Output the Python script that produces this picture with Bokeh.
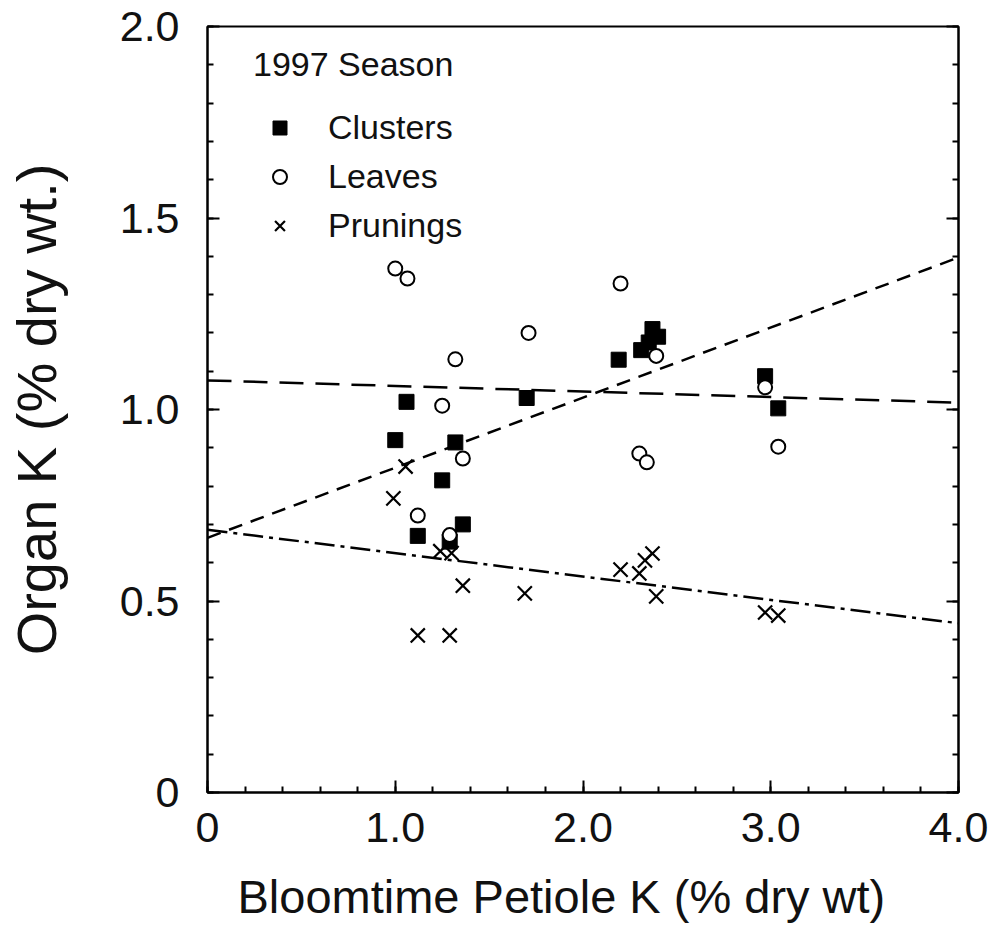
from bokeh.plotting import figure
from bokeh.models import LinearAxis, SingleIntervalTicker, Range1d, Legend, LegendItem, Title
from bokeh.embed import file_html
from bokeh.resources import INLINE

# ---- data (1997 season) ----
clusters_x = [1.00, 1.06, 1.12, 1.25, 1.29, 1.32, 1.36, 1.70, 2.19, 2.31, 2.35, 2.37, 2.40, 2.97, 3.04]
clusters_y = [0.92, 1.02, 0.67, 0.815, 0.655, 0.914, 0.70, 1.03, 1.13, 1.155, 1.175, 1.21, 1.19, 1.087, 1.003]

leaves_x = [1.00, 1.065, 1.12, 1.25, 1.29, 1.32, 1.36, 1.71, 2.20, 2.30, 2.34, 2.39, 2.97, 3.04]
leaves_y = [1.368, 1.342, 0.723, 1.01, 0.672, 1.131, 0.872, 1.20, 1.329, 0.885, 0.862, 1.14, 1.058, 0.903]

prunings_x = [0.99, 1.055, 1.12, 1.24, 1.29, 1.30, 1.36, 1.69, 2.20, 2.30, 2.33, 2.37, 2.39, 2.97, 3.04]
prunings_y = [0.768, 0.851, 0.41, 0.63, 0.41, 0.625, 0.54, 0.52, 0.582, 0.572, 0.606, 0.624, 0.512, 0.47, 0.462]

# regression lines (values at the ends of the x range)
fit_x = [0.0, 4.0]
clusters_fit = [0.665, 1.397]
leaves_fit = [1.076, 1.018]
prunings_fit = [0.686, 0.442]

x_ticks = [0, 1, 2, 3, 4]
x_tick_labels = ["0", "1.0", "2.0", "3.0", "4.0"]
y_ticks = [0, 0.5, 1.0, 1.5, 2.0]
y_tick_labels = ["0", "0.5", "1.0", "1.5", "2.0"]

FONT = "Liberation Sans"
INK = "#111111"

p = figure(width=992, height=947, output_backend="svg", toolbar_location=None,
           x_range=Range1d(0, 4), y_range=Range1d(0, 2),
           min_border_left=207, min_border_top=26, min_border_right=34, min_border_bottom=155)
p.xgrid.visible = False
p.ygrid.visible = False
p.outline_line_color = "black"
p.outline_line_width = 2
p.background_fill_color = "white"
p.border_fill_color = "white"

xt = SingleIntervalTicker(interval=1, num_minor_ticks=5)
yt = SingleIntervalTicker(interval=0.5, num_minor_ticks=5)

def style_axis(ax, ticker, overrides):
    ax.ticker = ticker
    ax.major_label_overrides = overrides
    ax.axis_line_color = "black"
    ax.axis_line_width = 2
    ax.major_tick_in = 12
    ax.major_tick_out = 0
    ax.minor_tick_in = 6
    ax.minor_tick_out = 0
    ax.major_tick_line_width = 2
    ax.minor_tick_line_width = 2
    ax.major_tick_line_color = "black"
    ax.minor_tick_line_color = "black"
    ax.major_label_text_font = FONT
    ax.major_label_text_font_size = "43px"
    ax.major_label_text_color = INK
    ax.axis_label_text_font = FONT
    ax.axis_label_text_font_style = "normal"
    ax.axis_label_text_color = INK

style_axis(p.xaxis[0], xt, dict(zip(x_ticks, x_tick_labels)))
style_axis(p.yaxis[0], yt, dict(zip(y_ticks, y_tick_labels)))
p.xaxis[0].major_label_standoff = 20
p.yaxis[0].major_label_standoff = 28
p.yaxis[0].axis_label = "Organ K (% dry wt.)"
p.yaxis[0].axis_label_text_font_size = "56px"
p.yaxis[0].axis_label_standoff = 49

right = LinearAxis()
style_axis(right, yt, dict(zip(y_ticks, [""] * len(y_ticks))))
right.major_label_standoff = 0
p.add_layout(right, "right")

# x-axis title, starting a little right of the frame's left edge as in the reference
p.add_layout(Title(text="Bloomtime Petiole K (% dry wt)", align="left", offset=30,
                   text_font=FONT, text_font_size="47px", text_font_style="normal",
                   text_line_height=0.85, text_color=INK, standoff=47), "below")

# regression lines
r_lf = p.line(fit_x, leaves_fit, line_color="black", line_width=2.5, line_dash="24 12")
r_cf = p.line(fit_x, clusters_fit, line_color="black", line_width=2.5, line_dash="14 9")
r_pf = p.line(fit_x, prunings_fit, line_color="black", line_width=2.5, line_dash="20 6 4 6")

# points
r_c = p.scatter(clusters_x, clusters_y, marker="square", size=15, fill_color="black", line_color="black")
r_l = p.scatter(leaves_x, leaves_y, marker="circle", size=14, fill_color="white", line_color="black", line_width=2)
r_p = p.scatter(prunings_x, prunings_y, marker="x", size=20, line_color="black", line_width=2.2)

legend = Legend(items=[LegendItem(label="Clusters", renderers=[r_c]),
                       LegendItem(label="Leaves", renderers=[r_l]),
                       LegendItem(label="Prunings", renderers=[r_p])],
                location=(46, 547), title="1997 Season",
                title_text_font=FONT, title_text_font_size="34px", title_text_font_style="normal",
                title_text_color=INK, title_standoff=24,
                label_text_font=FONT, label_text_font_size="34px", label_text_color=INK,
                glyph_width=53, glyph_height=35, label_height=35, label_standoff=22,
                spacing=10, padding=0, margin=0,
                border_line_color=None, background_fill_alpha=0)
p.add_layout(legend)

open("out.html", "w").write(file_html(p, INLINE))
